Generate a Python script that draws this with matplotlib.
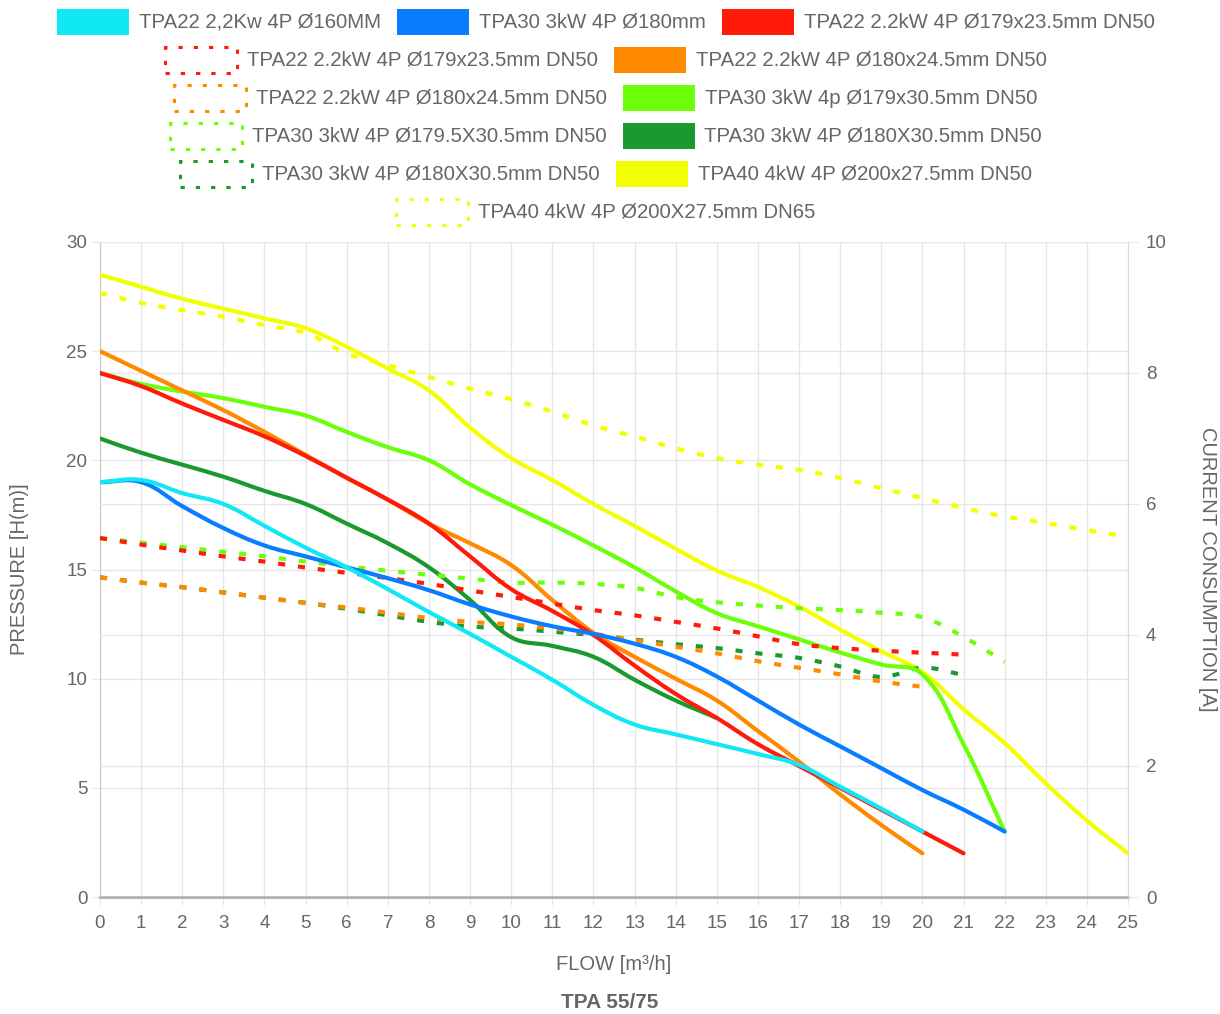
import matplotlib
matplotlib.use('Agg')
import matplotlib.pyplot as plt
from matplotlib.patches import Rectangle, PathPatch
from matplotlib.path import Path

plt.rcParams['font.family'] = ['Liberation Sans', 'DejaVu Sans']

W, H = 1220, 1014

# pressure curves H(m) vs flow (m3/h), flow starts at 0 step 1
cyan_h = [19.0, 19.1, 18.5, 18.0, 17.0, 16.0, 15.1, 14.1, 13.05, 12.05, 11.0, 9.95, 8.8,
          7.9, 7.45, 7.0, 6.55, 6.05, 5.05, 4.05, 3.0]
blue_h = [19.0, 19.0, 17.9, 16.9, 16.1, 15.6, 15.1, 14.6, 14.05, 13.4, 12.85, 12.4, 12.05,
          11.6, 11.0, 10.1, 9.0, 7.9, 6.9, 5.9, 4.9, 4.0, 3.0]
red_h = [24.0, 23.4, 22.6, 21.85, 21.1, 20.2, 19.2, 18.2, 17.1, 15.6, 14.1, 13.1, 12.0,
         10.6, 9.3, 8.2, 7.0, 6.0, 5.0, 4.0, 3.0, 2.0]
orange_h = [25.0, 24.1, 23.2, 22.3, 21.3, 20.25, 19.2, 18.2, 17.1, 16.2, 15.2, 13.6, 12.1,
            11.0, 10.0, 9.0, 7.6, 6.2, 4.7, 3.3, 2.0]
lime_h = [24.0, 23.5, 23.15, 22.85, 22.45, 22.05, 21.3, 20.6, 20.0, 18.9, 17.95, 17.05, 16.1,
          15.1, 14.0, 13.0, 12.4, 11.8, 11.2, 10.65, 10.2, 7.0, 3.0]
dgreen_h = [21.0, 20.35, 19.8, 19.25, 18.6, 18.0, 17.1, 16.2, 15.1, 13.6, 11.9, 11.5, 11.0,
            9.95, 9.0, 8.2]
yellow_h = [28.5, 27.95, 27.4, 26.95, 26.5, 26.05, 25.2, 24.2, 23.2, 21.5, 20.1, 19.1, 18.0,
            17.0, 15.95, 14.95, 14.2, 13.3, 12.25, 11.25, 10.3, 8.6, 7.05, 5.2, 3.5, 2.0]

# current consumption (A), right axis
red_a = [5.48, 5.38, 5.29, 5.2, 5.12, 5.03, 4.95, 4.87, 4.78, 4.68, 4.58, 4.48, 4.38, 4.3,
         4.2, 4.1, 3.98, 3.86, 3.8, 3.76, 3.73, 3.7]
orange_a = [4.88, 4.8, 4.73, 4.65, 4.57, 4.49, 4.42, 4.34, 4.26, 4.2, 4.16, 4.1, 4.02, 3.92,
            3.82, 3.72, 3.6, 3.5, 3.4, 3.29, 3.21]
lime_a = [5.48, 5.41, 5.34, 5.27, 5.2, 5.12, 5.05, 4.98, 4.92, 4.86, 4.8, 4.8, 4.78, 4.72,
          4.58, 4.5, 4.45, 4.41, 4.38, 4.34, 4.27, 3.97, 3.59]
dgreen_a = [4.88, 4.8, 4.73, 4.65, 4.57, 4.49, 4.4, 4.3, 4.2, 4.13, 4.1, 4.05, 4.0, 3.93,
            3.86, 3.8, 3.72, 3.65, 3.52, 3.36, 3.5, 3.39]
yellow_a = [9.22, 9.07, 8.96, 8.86, 8.73, 8.61, 8.3, 8.12, 7.94, 7.76, 7.6, 7.41, 7.2, 7.03,
            6.85, 6.7, 6.6, 6.52, 6.4, 6.24, 6.09, 5.94, 5.81, 5.71, 5.6, 5.5]

labels = [
    'TPA22 2,2Kw 4P Ø160MM',
    'TPA30 3kW 4P Ø180mm',
    'TPA22 2.2kW 4P Ø179x23.5mm DN50',
    'TPA22 2.2kW 4P Ø179x23.5mm DN50',
    'TPA22 2.2kW 4P Ø180x24.5mm DN50',
    'TPA22 2.2kW 4P Ø180x24.5mm DN50',
    'TPA30 3kW 4p Ø179x30.5mm DN50',
    'TPA30 3kW 4P Ø179.5X30.5mm DN50',
    'TPA30 3kW 4P Ø180X30.5mm DN50',
    'TPA30 3kW 4P Ø180X30.5mm DN50',
    'TPA40 4kW 4P Ø200x27.5mm DN50',
    'TPA40 4kW 4P Ø200X27.5mm DN65',
]
series = [cyan_h, blue_h, red_h, red_a, orange_h, orange_a, lime_h, lime_a,
          dgreen_h, dgreen_a, yellow_h, yellow_a]
colors = ['#10e8f5', '#0a7cff', '#ff1a0a', '#ff1a0a', '#ff8a00', '#ff8a00',
          '#6cff0a', '#6cff0a', '#1a9a2e', '#1a9a2e', '#f2ff00', '#f2ff00']
dotted = [False, False, False, True, False, True, False, True, False, True, False, True]
legend_rows = [[0, 1, 2], [3, 4], [5, 6], [7, 8], [9, 10], [11]]

grey = '#666666'
gridc = '#e6e6e6'


def smooth_path(ax_, xs, ys, tension=0.4):
    # cubic bezier through the points, control points like chart.js (in screen space)
    pts = ax_.transData.transform(list(zip(xs, ys)))
    n = len(pts)
    verts = [pts[0]]
    codes = [Path.MOVETO]
    cps = []
    for i in range(n):
        p0 = pts[max(i - 1, 0)]
        p1 = pts[i]
        p2 = pts[min(i + 1, n - 1)]
        d01 = ((p1 - p0) ** 2).sum() ** 0.5
        d12 = ((p2 - p1) ** 2).sum() ** 0.5
        tot = d01 + d12
        fa = tension * d01 / tot if tot else 0
        fb = tension * d12 / tot if tot else 0
        cps.append((p1 - fa * (p2 - p0), p1 + fb * (p2 - p0)))
    for i in range(1, n):
        verts += [cps[i - 1][1], cps[i][0], pts[i]]
        codes += [Path.CURVE4] * 3
    return Path(verts, codes)


fig = plt.figure(figsize=(W / 100, H / 100), dpi=100)
ax = fig.add_axes([100 / W, 1 - 897 / H, 1028 / W, 655 / H])
ax2 = ax.twinx()

ax.set_xlim(0, 25)
ax.set_ylim(0, 30)
ax2.set_ylim(0, 10)

for i, vals in enumerate(series):
    x = list(range(len(vals)))
    src = ax2 if dotted[i] else ax
    path = smooth_path(src, x, vals)
    if dotted[i]:
        patch = PathPatch(path, fill=False, edgecolor=colors[i], lw=3,
                          linestyle=(0, (1.7, 3.1)), capstyle='butt', transform=None,
                          zorder=20 - i)
    else:
        patch = PathPatch(path, fill=False, edgecolor=colors[i], lw=3,
                          capstyle='round', joinstyle='round', transform=None,
                          zorder=20 - i)
    patch.set_clip_box(ax.bbox)
    ax2.add_artist(patch)

ax.set_xticks(range(0, 26))
ax.set_yticks(range(0, 31, 5))
ax2.set_yticks(range(0, 11, 2))

ax.grid(color=gridc, lw=1)
ax2.grid(axis='y', color=gridc, lw=1)
ax2.set_axisbelow(True)
ax.tick_params(axis='both', length=6, color=gridc, labelcolor=grey, labelsize=13.5)
ax.tick_params(axis='x', pad=7)
ax.tick_params(axis='y', pad=3)
ax2.tick_params(axis='y', length=7, color=gridc, labelcolor=grey, labelsize=13.5, pad=6)

for s in ['top', 'right']:
    ax.spines[s].set_visible(False)
for s in ['top', 'left', 'bottom']:
    ax2.spines[s].set_visible(False)
ax.spines['left'].set_color('#c8c8c8')
ax.spines['bottom'].set_color('#b0b0b0')
ax.spines['bottom'].set_linewidth(2)
ax2.spines['right'].set_color('#d8d8d8')

ax.set_xlabel('FLOW [m³/h]', fontsize=14.5, color=grey, va='center')
ax.xaxis.set_label_coords(0.5, (897 - 965) / 655)
ax.set_ylabel('PRESSURE [H(m)]', fontsize=14.5, color=grey, va='center')
ax.yaxis.set_label_coords((20 - 100) / 1028, 0.5)
ax2.set_ylabel('CURRENT CONSUMPTION [A]', fontsize=14.5, color=grey, va='center',
               rotation=270)
ax2.yaxis.set_label_coords((1208 - 100) / 1028, 0.5)
fig.text(610 / W, 1 - 1002 / H, 'TPA 55/75', fontsize=15, fontweight='bold',
         color=grey, ha='center', va='center')

# legend in centred rows like the original
renderer = fig.canvas.get_renderer()
for r, row in enumerate(legend_rows):
    yc = 22 + 38 * r
    items = []
    for i in row:
        t = fig.text(0, 1 - yc / H, labels[i], fontsize=14.7, color=grey,
                     ha='left', va='center')
        items.append((i, t, t.get_window_extent(renderer).width))
    total = sum(82 + w for _, _, w in items) + 16 * (len(items) - 1)
    x0 = 606 - total / 2
    for i, t, w in items:
        if dotted[i]:
            box = Rectangle((x0 / W, 1 - (yc + 13) / H), 72 / W, 26 / H, fill=False,
                            edgecolor=colors[i], lw=2.2, linestyle=(0, (1.4, 3.6)),
                            transform=fig.transFigure)
        else:
            box = Rectangle((x0 / W, 1 - (yc + 13) / H), 72 / W, 26 / H,
                            facecolor=colors[i], edgecolor='none',
                            transform=fig.transFigure)
        fig.patches.append(box)
        t.set_x((x0 + 82) / W)
        x0 += 82 + w + 16

fig.savefig('out.png', dpi=100)
